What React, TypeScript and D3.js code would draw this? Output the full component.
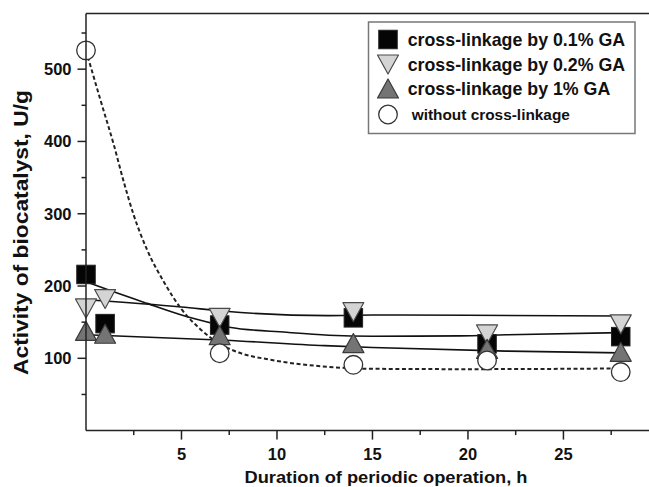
import React from "react";
import * as d3 from "d3";

// ---- data ----
const hours = [0, 1, 7, 14, 21, 28];
const ga01 = [216, 148, 146, 156, 120, 130];
const ga02 = [169, 182, 156, 164, 133, 147];
const ga1 = [138, 134, 132, 121, 113, 109];
const noCrossHours = [0, 7, 14, 21, 28];
const noCross = [526, 107, 91, 97, 81];

// fitted curves: [hour, activity]
const fit01: [number, number][] = [
  [0, 206], [1.45, 192], [3.2, 176], [5, 160], [6.7, 148], [7.5, 143],
  [10.5, 136], [12.7, 132], [15, 130.5], [19.6, 131], [22, 132.5], [28, 135.5],
];
const fit02: [number, number][] = [
  [0, 181], [5, 171], [7.3, 165], [12.7, 159], [15, 160], [20, 159.5], [28, 158.5],
];
const fit1: [number, number][] = [
  [0, 132.5], [7.3, 125], [12.5, 117.5], [15, 115], [22, 110], [28, 107.5],
];
const fitNoCross: [number, number][] = [
  [0, 526], [0.76, 457], [1.46, 395], [2, 342], [2.5, 298], [3.2, 250], [4.07, 206],
  [5, 168], [6, 140], [7, 120], [8, 108], [9.66, 98], [12.3, 89], [15, 85.5], [20, 85], [28, 86],
];

const xMajorTicks = [5, 10, 15, 20, 25];
const xMinorTicks = [2.5, 7.5, 12.5, 17.5, 22.5, 27.5];
const yMajorTicks = [100, 200, 300, 400, 500];
const yMinorTicks = [50, 150, 250, 350, 450, 550];

const legendLabels = [
  "cross-linkage by 0.1% GA",
  "cross-linkage by 0.2% GA",
  "cross-linkage by 1% GA",
  "without cross-linkage",
];

const FONT = "'Liberation Sans', Arial, Helvetica, sans-serif";

type Shape = "square" | "down" | "up" | "circle";

function Marker({ shape, cx, cy }: { shape: Shape; cx: number; cy: number }) {
  if (shape === "square") {
    const s = 18.5;
    return <rect x={cx - s / 2} y={cy - s / 2} width={s} height={s} fill="#050505" stroke="#222" strokeWidth={1} />;
  }
  if (shape === "circle") {
    return <circle cx={cx} cy={cy} r={9.3} fill="#fff" stroke="#333" strokeWidth={1.3} />;
  }
  const w = 21, h = 19;
  if (shape === "down") {
    const p = `M${cx - w / 2},${cy - h / 2}L${cx + w / 2},${cy - h / 2}L${cx},${cy + h / 2}Z`;
    return <path d={p} fill="#d4d4d4" stroke="#4a4a4a" strokeWidth={1.2} strokeLinejoin="round" />;
  }
  const p = `M${cx - w / 2},${cy + h / 2}L${cx + w / 2},${cy + h / 2}L${cx},${cy - h / 2}Z`;
  return <path d={p} fill="#747474" stroke="#3a3a3a" strokeWidth={1.2} strokeLinejoin="round" />;
}

export default function App() {
  const W = 649, H = 487;
  const x = d3.scaleLinear().domain([0, 29.48]).range([86, 649]);
  const y = d3.scaleLinear().domain([0, 577]).range([430.6, 13.5]);
  const line = d3
    .line<[number, number]>()
    .x((d) => x(d[0]))
    .y((d) => y(d[1]))
    .curve(d3.curveMonotoneX);

  const series: { shape: Shape; xs: number[]; ys: number[] }[] = [
    { shape: "square", xs: hours, ys: ga01 },
    { shape: "down", xs: hours, ys: ga02 },
    { shape: "up", xs: hours, ys: ga1 },
    { shape: "circle", xs: noCrossHours, ys: noCross },
  ];

  const x0 = x(0), yBase = y(0), yTop = y(577);

  return (
    <svg
      width={W}
      height={H}
      viewBox={`0 0 ${W} ${H}`}
      style={{ position: "absolute", left: 0, top: 0, background: "#fff" }}
      fontFamily={FONT}
    >
      <rect x={0} y={0} width={W} height={H} fill="#fff" />
      {/* fit curves */}
      <path d={line(fit02) || ""} fill="none" stroke="#111" strokeWidth={1.6} />
      <path d={line(fit01) || ""} fill="none" stroke="#111" strokeWidth={1.6} />
      <path d={line(fit1) || ""} fill="none" stroke="#111" strokeWidth={1.6} />
      <path d={line(fitNoCross) || ""} fill="none" stroke="#222" strokeWidth={2} strokeDasharray="4,2.6" />

      {/* markers */}
      {series.map((s, si) =>
        s.xs.map((h, i) => <Marker key={`${si}-${i}`} shape={s.shape} cx={x(h)} cy={y(s.ys[i])} />)
      )}

      {/* frame / axes */}
      <line x1={x0} x2={W} y1={yTop} y2={yTop} stroke="#222" strokeWidth={1.5} />
      <line x1={x0} x2={x0} y1={yTop} y2={yBase} stroke="#222" strokeWidth={1.5} />
      <line x1={x0} x2={W} y1={yBase} y2={yBase} stroke="#222" strokeWidth={1.5} />

      {xMajorTicks.map((t) => (
        <g key={`xt${t}`}>
          <line x1={x(t)} x2={x(t)} y1={yBase} y2={yBase + 9} stroke="#222" strokeWidth={1.5} />
          <text x={x(t)} y={460} textAnchor="middle" fontSize={16.5} fontWeight="bold" fill="#111">
            {t}
          </text>
        </g>
      ))}
      {xMinorTicks.map((t) => (
        <line key={`xm${t}`} x1={x(t)} x2={x(t)} y1={yBase} y2={yBase + 4.5} stroke="#222" strokeWidth={1.5} />
      ))}
      {yMajorTicks.map((t) => (
        <g key={`yt${t}`}>
          <line x1={x0 - 8.5} x2={x0} y1={y(t)} y2={y(t)} stroke="#222" strokeWidth={1.5} />
          <text x={71.5} y={y(t) + 6} textAnchor="end" fontSize={16.5} fontWeight="bold" fill="#111">
            {t}
          </text>
        </g>
      ))}
      {yMinorTicks.map((t) => (
        <line key={`ym${t}`} x1={x0 - 4.5} x2={x0} y1={y(t)} y2={y(t)} stroke="#222" strokeWidth={1.5} />
      ))}

      {/* axis titles */}
      <text
        x={386}
        y={483}
        textAnchor="middle"
        fontSize={16}
        fontWeight="bold"
        fill="#111"
        textLength={283}
        lengthAdjust="spacingAndGlyphs"
      >
        Duration of periodic operation, h
      </text>
      <text
        transform="translate(28,232.5) rotate(-90)"
        textAnchor="middle"
        fontSize={20}
        fontWeight="bold"
        fill="#111"
        textLength={285}
        lengthAdjust="spacingAndGlyphs"
      >
        Activity of biocatalyst, U/g
      </text>

      {/* legend */}
      <rect x={368.5} y={22} width={266.5} height={111.5} fill="#fff" stroke="#777" strokeWidth={1.5} />
      {legendLabels.map((lab, i) => {
        const cy = [39.5, 64.5, 88.5, 114.5][i];
        const last = i === 3;
        return (
          <g key={lab}>
            <Marker shape={series[i].shape} cx={388} cy={cy} />
            <text
              x={last ? 411.7 : 407.7}
              y={cy + (last ? 5.5 : 6.5)}
              fontSize={last ? 15.4 : 17.8}
              fontWeight="bold"
              fill="#111"
            >
              {lab}
            </text>
          </g>
        );
      })}
    </svg>
  );
}
